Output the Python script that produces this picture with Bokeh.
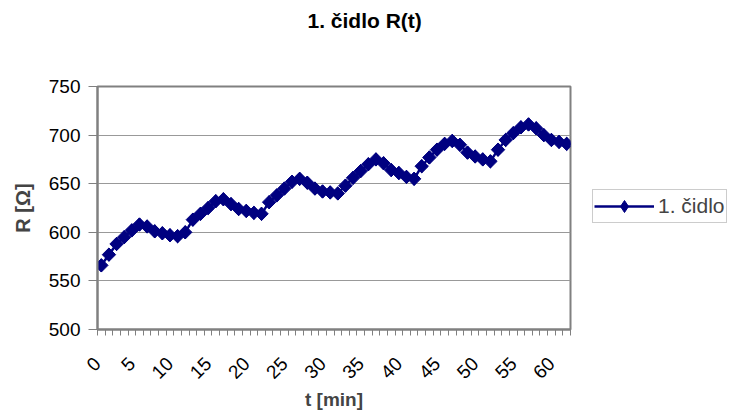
import numpy as np
from bokeh.plotting import figure
from bokeh.models import (Range1d, FixedTicker, Legend, LegendItem, Title,
                          ColumnDataSource)
from bokeh.embed import file_html
from bokeh.resources import INLINE

# ---- data ----
minutes = list(range(62))
resistance = [566, 577, 588, 595, 602, 608, 606, 601, 599, 597, 596, 600,
              613, 619, 625, 632, 634, 629, 624, 622, 620, 619,
              631, 638, 645, 652, 655, 651, 645, 642, 641, 640,
              648, 656, 663, 670, 675, 671, 664, 661, 657, 655,
              668, 677, 685, 691, 694, 690, 682, 678, 675, 673,
              685, 695, 702, 708, 711, 707, 700, 695, 693, 691]
x_tick_values = list(range(0, 61, 5))
y_tick_values = [500, 550, 600, 650, 700, 750]
series_name = "1. čidlo"
chart_title = "1. čidlo R(t)"
x_title = "t [min]"
y_title = "R [Ω]"

FONT = "Liberation Sans"
NAVY = "#000080"
GRAY = "#808080"

src = ColumnDataSource(data=dict(t=minutes, r=resistance))
x_lo, x_hi = -0.5, len(minutes) - 0.5

p = figure(frame_width=473, frame_height=243,
           min_border_left=97, min_border_right=155,
           min_border_top=86, min_border_bottom=82,
           x_range=Range1d(x_lo, x_hi), y_range=Range1d(500, 750),
           output_backend="svg", toolbar_location=None,
           title_location=None,
           background_fill_color="white", border_fill_color="white")

# empty spacer between frame and title (pushes the title to the top edge)
p.add_layout(Title(text=" ", text_font_size="1px", standoff=47), "above")
p.add_layout(Title(text=chart_title, align="left", offset=210, standoff=10,
                   text_font=FONT, text_font_size="21px",
                   text_font_style="bold", text_color="black"), "above")

p.outline_line_color = GRAY
p.outline_line_width = 2

# x axis: category-like, labels every 5, tick marks at category boundaries
label_shift = 1  # Excel anchors the rotated label's corner at the category centre
label_pos = [max(v - label_shift, x_lo) for v in x_tick_values]
xa = p.xaxis[0]
xa.ticker = FixedTicker(ticks=label_pos,
                        minor_ticks=[i - 0.5 for i in range(len(minutes) + 1)])
xa.major_label_overrides = {pos: str(v) for pos, v in zip(label_pos, x_tick_values)}
xa.major_tick_line_color = None
xa.major_tick_out = 6
xa.major_tick_in = 0
xa.minor_tick_out = 6
xa.minor_tick_in = 0
xa.minor_tick_line_color = GRAY
xa.axis_line_color = GRAY
xa.axis_line_width = 2
xa.major_label_orientation = np.pi / 4
xa.major_label_text_font = FONT
xa.major_label_text_font_size = "19px"
xa.major_label_text_color = "black"
xa.major_label_standoff = 25
xa.axis_label = x_title
xa.axis_label_text_font = FONT
xa.axis_label_text_font_size = "19px"
xa.axis_label_text_font_style = "bold"
xa.axis_label_standoff = 1

ya = p.yaxis[0]
ya.ticker = FixedTicker(ticks=y_tick_values)
ya.minor_tick_line_color = None
ya.major_tick_out = 9
ya.major_tick_in = 0
ya.major_tick_line_color = GRAY
ya.axis_line_color = GRAY
ya.axis_line_width = 2
ya.major_label_text_font = FONT
ya.major_label_text_font_size = "19px"
ya.major_label_text_color = "black"
ya.major_label_standoff = 8
ya.axis_label = y_title
ya.axis_label_text_font = FONT
ya.axis_label_text_font_size = "20px"
ya.axis_label_text_font_style = "bold"
ya.axis_label_standoff = 12

p.xgrid.grid_line_color = None
p.ygrid.grid_line_color = "#999999"
p.ygrid.grid_line_width = 1
p.ygrid.ticker = FixedTicker(ticks=y_tick_values)

ln = p.line("t", "r", source=src, line_color=NAVY, line_width=2.5)
# upright diamonds (used as the legend key); each sits wholly inside the
# rotated-square marker drawn on top of it, so the plot shows Excel's markers
key = p.scatter("t", "r", source=src, marker="diamond", size=13,
                fill_color=NAVY, line_color=NAVY)
mk = p.scatter("t", "r", source=src, marker="square", size=9.5, angle=np.pi / 4,
               fill_color=NAVY, line_color=NAVY)

legend = Legend(items=[LegendItem(label=series_name, renderers=[ln, key])],
                location=(22, 106), orientation="vertical",
                glyph_width=60, glyph_height=30, label_standoff=4,
                padding=1, margin=0, spacing=0,
                border_line_color="#999999", border_line_width=1,
                background_fill_color="white", background_fill_alpha=1,
                label_text_font=FONT, label_text_font_size="21px")
p.add_layout(legend, "right")

open("out.html", "w").write(file_html(p, INLINE))
